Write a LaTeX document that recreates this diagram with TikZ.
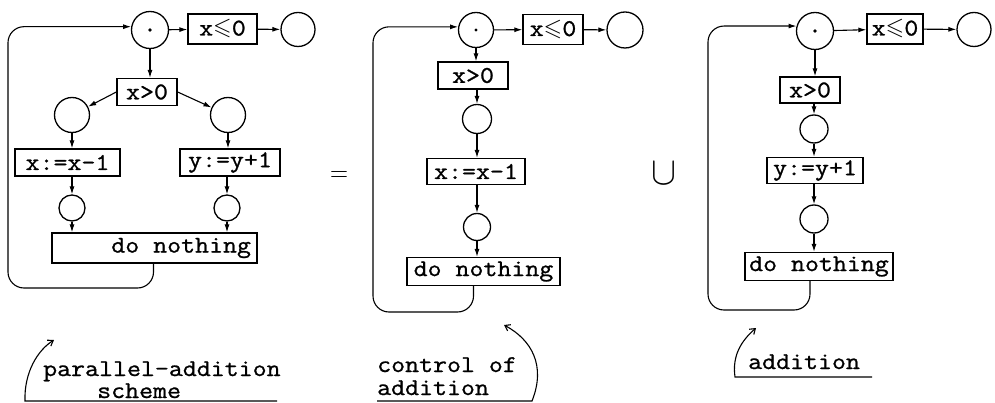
\documentclass[tikz,border=0pt]{standalone}
\usepackage{fontspec}
\usepackage{graphicx}
\usepackage{amssymb}
\usetikzlibrary{arrows.meta}
\newfontfamily\tw[FakeStretch=1.13,FakeBold=1]{Latin Modern Mono}
\newcommand{\mle}{x\raisebox{0.5pt}{$\leqslant$}0}
\begin{document}
\begin{tikzpicture}[x=1pt,y=-1pt,
  every node/.style={font=\tw\fontsize{24}{26}\selectfont},
  place/.style={circle,draw,line width=1.3pt,inner sep=0pt},
  trans/.style={rectangle,draw,line width=1.3pt,inner sep=0pt},
  arr/.style={line width=1.1pt,-{Latex[length=8pt,width=5pt]}},
  loopline/.style={arr,rounded corners=16pt},
  lab/.style={anchor=base west,inner sep=0pt},
  labarr/.style={line width=1.1pt,-{Straight Barb[length=5pt,width=7pt]}}]
\useasboundingbox (0,0) rectangle (995,403);

% ---------- diagram 1 ----------
\node[place,minimum size=37pt] (a1) at (150,30) {};
\fill (a1) circle (1.8pt);
\node[trans,minimum width=69pt,minimum height=30pt] (a1le) at (222.5,29) {\mle};
\node[place,minimum size=34pt] (a1e) at (298,29.5) {};
\node[trans,minimum width=60pt,minimum height=27pt] (a1gt) at (147,92) {x>0};
\node[place,minimum size=35pt] (a1l) at (72,115) {};
\node[place,minimum size=35pt] (a1r) at (228,115) {};
\node[trans,minimum width=105pt,minimum height=27pt] (a1a) at (67.5,162.5) {x:=x-1};
\node[trans,minimum width=100pt,minimum height=27pt] (a1b) at (230,162.5) {y:=y+1};
\node[place,minimum size=26pt] (a1l2) at (72,208) {};
\node[place,minimum size=26pt] (a1r2) at (227,208) {};
\node[trans,minimum height=30pt,inner xsep=6pt] (a1n) at (154.5,248) {\makebox[193pt][r]{do nothing}};

\draw[arr] (a1) -- (a1le);
\draw[arr] (a1le) -- (a1e);
\draw[arr] (a1.south) -- (a1.south |- a1gt.north);
\draw[arr] (a1gt.west) -- (a1l);
\draw[arr] (a1gt.east) -- (a1r);
\draw[arr] (a1l) -- (a1l |- a1a.north);
\draw[arr] (a1r) -- (a1r |- a1b.north);
\draw[arr] (a1l2 |- a1a.south) -- (a1l2);
\draw[arr] (a1r2 |- a1b.south) -- (a1r2);
\draw[arr] (a1l2) -- (a1l2 |- a1n.north);
\draw[arr] (a1r2) -- (a1r2 |- a1n.north);
\draw[loopline] ([xshift=-1pt]a1n.south) |- (8,288) |- (a1.170);

% ---------- diagram 2 ----------
\node[place,minimum size=35pt] (b1) at (476,30) {};
\fill (b1) circle (1.6pt);
\node[trans,minimum width=60pt,minimum height=30pt] (b1le) at (553,29.5) {\mle};
\node[place,minimum size=36pt] (b1e) at (625,30) {};
\node[trans,minimum width=70pt,minimum height=27pt] (b1gt) at (473,75.5) {x>0};
\node[place,minimum size=29pt] (b1c) at (477,119) {};
\node[trans,minimum width=98pt,minimum height=26pt] (b1a) at (476,171.5) {x:=x-1};
\node[place,minimum size=27pt] (b1c2) at (477,227) {};
\node[trans,minimum width=153pt,minimum height=28pt] (b1n) at (483.5,271.5) {do nothing};

\draw[arr] (b1) -- (b1le);
\draw[arr] (b1le) -- (b1e);
\draw[arr] (b1.south) -- (b1.south |- b1gt.north);
\draw[arr] (b1c |- b1gt.south) -- (b1c);
\draw[arr] (b1c) -- (b1c |- b1a.north);
\draw[arr] (b1c2 |- b1a.south) -- (b1c2);
\draw[arr] (b1c2) -- (b1c2 |- b1n.north);
\draw[loopline] ([xshift=-10pt]b1n.south) |- (373,312) |- (b1.170);

\node (eq) at (339,176.5) {\resizebox{18pt}{10pt}{$=$}};
\node (cup) at (664,174) {\resizebox{25pt}{22pt}{$\cup$}};

% ---------- diagram 3 ----------
\node[place,minimum size=37pt] (c1) at (815,31) {};
\fill (c1) circle (1.8pt);
\node[trans,minimum width=56pt,minimum height=30pt] (c1le) at (895,29) {\mle};
\node[place,minimum size=34pt] (c1e) at (974,29.5) {};
\node[trans,minimum width=60pt,minimum height=26pt] (c1gt) at (810,90) {x>0};
\node[place,minimum size=28pt] (c1c) at (814,129) {};
\node[trans,minimum width=96pt,minimum height=26pt] (c1b) at (815,170.5) {y:=y+1};
\node[place,minimum size=28pt] (c1c2) at (814,219) {};
\node[trans,minimum width=148pt,minimum height=28pt] (c1n) at (819,266.5) {do nothing};

\draw[arr] (c1) -- (c1le);
\draw[arr] (c1le) -- (c1e);
\draw[arr] (c1.south) -- (c1.south |- c1gt.north);
\draw[arr] (c1c |- c1gt.south) -- (c1c);
\draw[arr] (c1c) -- (c1c |- c1b.north);
\draw[arr] (c1c2 |- c1b.south) -- (c1c2);
\draw[arr] (c1c2) -- (c1c2 |- c1n.north);
\draw[loopline] ([xshift=-9pt]c1n.south) |- (708,310) |- (c1.165);

% ---------- labels ----------
\node[lab] (l1a) at (43,376) {parallel-addition};
\node[lab] (l1b) at (97,398) {scheme};
\draw[labarr] (277,401) -- (25,401) .. controls (24,372) and (38,350) .. (54,340);

\node[lab] (l2a) at (377,372) {control of};
\node[lab] (l2b) at (377,395) {addition};
\draw[labarr] (377,401) -- (532,401) .. controls (546,366) and (532,340) .. (504,325);

\node[lab] (l3) at (748,369) {addition};
\draw[labarr] (872,377) -- (735,377) .. controls (732,356) and (741,341) .. (756,328);
\end{tikzpicture}
\end{document}
